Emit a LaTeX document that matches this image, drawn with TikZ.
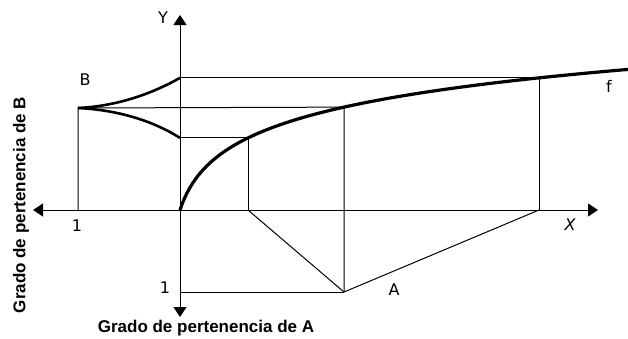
\documentclass[tikz,border=0pt]{standalone}
\usepackage{fontspec}
\setmainfont{DejaVu Sans}
\newfontfamily\boldlabel{Liberation Sans}
\usetikzlibrary{arrows.meta,calc,positioning}

\begin{document}
\begin{tikzpicture}[x=1pt,y=-1pt,
every node/.style={inner sep=0pt,font=\fontsize{16}{18}\selectfont},
thin line/.style={line width=1pt},
curve/.style={line width=3.2pt},
axis/.style={line width=1pt,{Triangle[length=10pt,width=13pt]}-{Triangle[length=10pt,width=13pt]}}]
\useasboundingbox (0,0) rectangle (628,338);
\coordinate (O) at (180,210);
\coordinate (XL) at (33,210);
\coordinate (XR) at (598,210);
\coordinate (YT) at (180,15);
\coordinate (YB) at (180,317);
\coordinate (B) at (78,108);
\coordinate (B0) at (78,210);
\coordinate (P1) at (248,{210-39.4*ln(1+68/13)});
\coordinate (P2) at (344,{210-39.4*ln(1+164/13)});
\coordinate (P3) at (539,{210-39.4*ln(1+359/13)});
\coordinate (Bup) at (O |- P3);
\coordinate (Blow) at (O |- P1);
\coordinate (Q1) at (248,210);
\coordinate (Q3) at (539,210);
\coordinate (A) at (344,292);
\coordinate (A0) at (180,292);
\draw[axis] (XL) -- (XR);
\draw[axis] (YB) -- (YT);
\draw[thin line] (Bup) -- (P3) -- (Q3);
\draw[thin line] (B0) -- (B) -- (P2) -- (A);
\draw[thin line] (Blow) -- (P1) -- (Q1);
\draw[thin line] (A0) -- (A);
\draw[thin line] (Q1) -- (A) -- (Q3);
\draw[curve] plot[domain=0:448,samples=200] ({180+\x},{210-39.4*ln(1+\x/13)});
\draw[curve,line width=2.6pt] (B) .. controls (120,106) and (155,92) .. (Bup);
\draw[curve,line width=2.6pt] (B) .. controls (120,110) and (155,122) .. (Blow);
\node (ly) at (163,18) {Y};
\node (lx) at (570,225) {\itshape X};
\node (lb) at (85,80) {B};
\node (la) at (394,290) {A};
\node (lf) at (609,86) {f};
\node (l1x) at (77,226) {1};
\node (l1y) at (165,288) {1};
\node[font=\boldlabel\bfseries\fontsize{17}{20}\selectfont] (gA) at (206,328) {Grado de pertenencia de A};
\node[font=\boldlabel\bfseries\fontsize{17}{20}\selectfont,rotate=90] (gB) at (21,205) {Grado de pertenencia de B};
\end{tikzpicture}
\end{document}
